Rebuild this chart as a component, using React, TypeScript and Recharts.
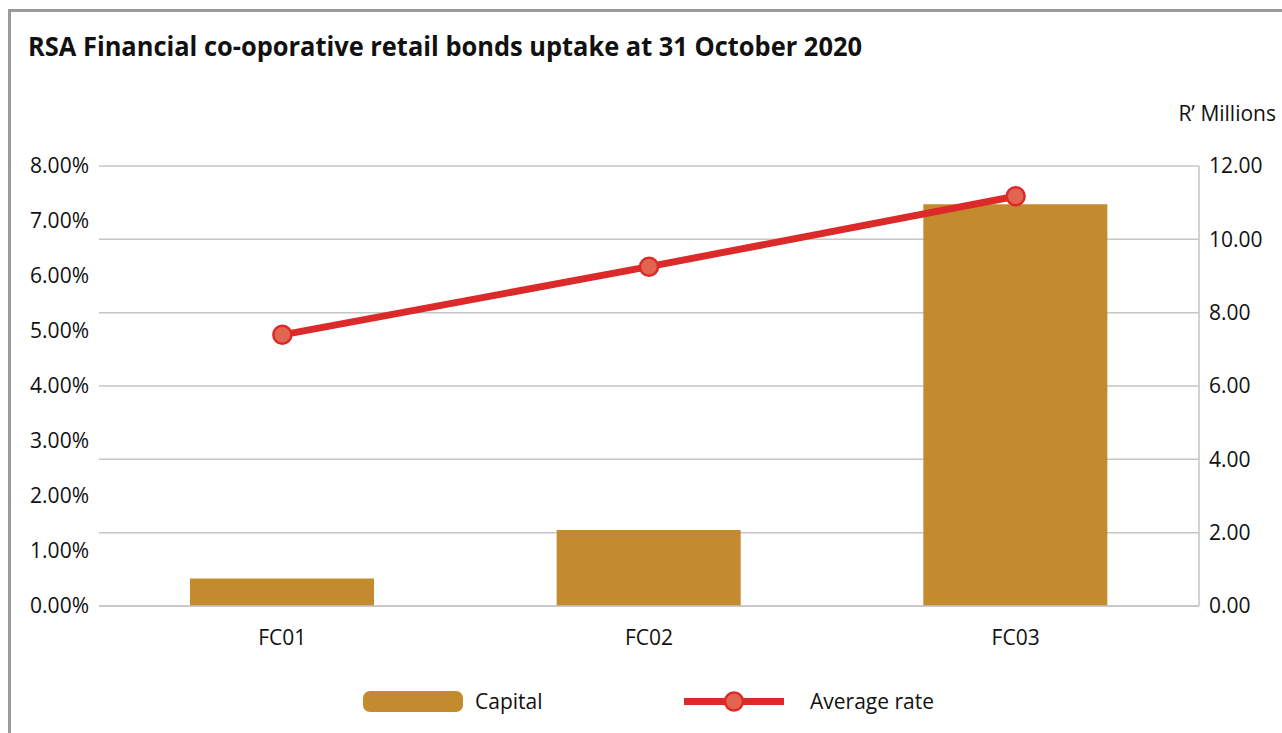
import React from "react";
import {
  ComposedChart,
  Bar,
  Line,
  XAxis,
  YAxis,
  CartesianGrid,
} from "recharts";

const categories = ["FC01", "FC02", "FC03"];
const capital = [0.75, 2.07, 10.96];
const averageRate = [0.0493, 0.0617, 0.0745];
const leftTicks = [0, 0.01, 0.02, 0.03, 0.04, 0.05, 0.06, 0.07, 0.08];
const rightTicks = [0, 2, 4, 6, 8, 10, 12];
const seriesNames = ["Capital", "Average rate"];
const title = "RSA Financial co-oporative retail bonds uptake at 31 October 2020";
const rightUnit = "R\u2019 Millions";

const data = categories.map((c, i) => ({
  name: c,
  capital: capital[i],
  rate: averageRate[i],
}));

const FONT = "'Open Sans', 'Noto Sans', sans-serif";
const BAR = "#c38a2e";
const LINE = "#dc2a2a";
const DOT = "#e2654f";
const GRID = "#c6c6c6";
const FS = 21;

export default function App() {
  return (
    <div
      style={{
        position: "absolute",
        left: 0,
        top: 0,
        width: 1282,
        height: 733,
        overflow: "hidden",
        background: "#fff",
        fontFamily: FONT,
      }}
    >
      <div
        style={{
          position: "absolute",
          left: 8,
          top: 9,
          width: 1400,
          height: 900,
          borderTop: "3px solid #9a9a9a",
          borderLeft: "3px solid #9a9a9a",
        }}
      />
      <div style={{ position: "absolute", left: 0, top: 0 }}>
        <ComposedChart
          width={1282}
          height={733}
          data={data}
          margin={{ top: 166, right: 0, left: 0, bottom: 87 }}
          barCategoryGap="25%"
        >
          <CartesianGrid
            yAxisId="right"
            vertical={false}
            stroke={GRID}
            strokeWidth={1.5}
          />
          <XAxis
            dataKey="name"
            axisLine={{ stroke: GRID, strokeWidth: 1.5 }}
            tickLine={false}
            tickMargin={18}
            height={40}
            tick={{ fill: "#111", fontSize: FS, fontFamily: FONT }}
          />
          <YAxis
            yAxisId="left"
            orientation="left"
            width={99}
            domain={[0, 0.08]}
            ticks={leftTicks}
            axisLine={false}
            tickLine={false}
            tickMargin={4}
            tickFormatter={(v: number) => (v * 100).toFixed(2) + "%"}
            tick={{ fill: "#111", fontSize: FS, fontFamily: FONT }}
          />
          <YAxis
            yAxisId="right"
            orientation="right"
            width={83}
            domain={[0, 12]}
            ticks={rightTicks}
            axisLine={{ stroke: GRID, strokeWidth: 1.5 }}
            tickLine={false}
            tickMargin={4}
            tickFormatter={(v: number) => v.toFixed(2)}
            tick={{ fill: "#111", fontSize: FS, fontFamily: FONT, textAnchor: "start" }}
          />
          <Bar
            yAxisId="right"
            dataKey="capital"
            name={seriesNames[0]}
            fill={BAR}
            barSize={184}
            isAnimationActive={false}
          />
          <Line
            yAxisId="left"
            dataKey="rate"
            name={seriesNames[1]}
            stroke={LINE}
            strokeWidth={7}
            dot={{ r: 9, fill: DOT, stroke: LINE, strokeWidth: 2.5 }}
            activeDot={false}
            isAnimationActive={false}
          />
        </ComposedChart>
      </div>
      <svg
        width={1282}
        height={733}
        style={{ position: "absolute", left: 0, top: 0, pointerEvents: "none" }}
      >
        <text
          x={28}
          y={56}
          fontFamily={FONT}
          fontWeight={700}
          fontSize={26}
          fill="#111"
          textLength={834}
          lengthAdjust="spacingAndGlyphs"
        >
          {title}
        </text>
        <text
          x={1276}
          y={121}
          fontFamily={FONT}
          fontSize={FS}
          fill="#111"
          textAnchor="end"
        >
          {rightUnit}
        </text>
        <rect x={363} y={691} width={100} height={21} rx={7} ry={7} fill={BAR} />
        <text x={475} y={709} fontFamily={FONT} fontSize={FS} fill="#111">
          {seriesNames[0]}
        </text>
        <line x1={684} y1={701.5} x2={784} y2={701.5} stroke={LINE} strokeWidth={7} />
        <circle cx={734} cy={701.5} r={9} fill={DOT} stroke={LINE} strokeWidth={2.5} />
        <text x={810} y={709} fontFamily={FONT} fontSize={FS} fill="#111">
          {seriesNames[1]}
        </text>
      </svg>
    </div>
  );
}
